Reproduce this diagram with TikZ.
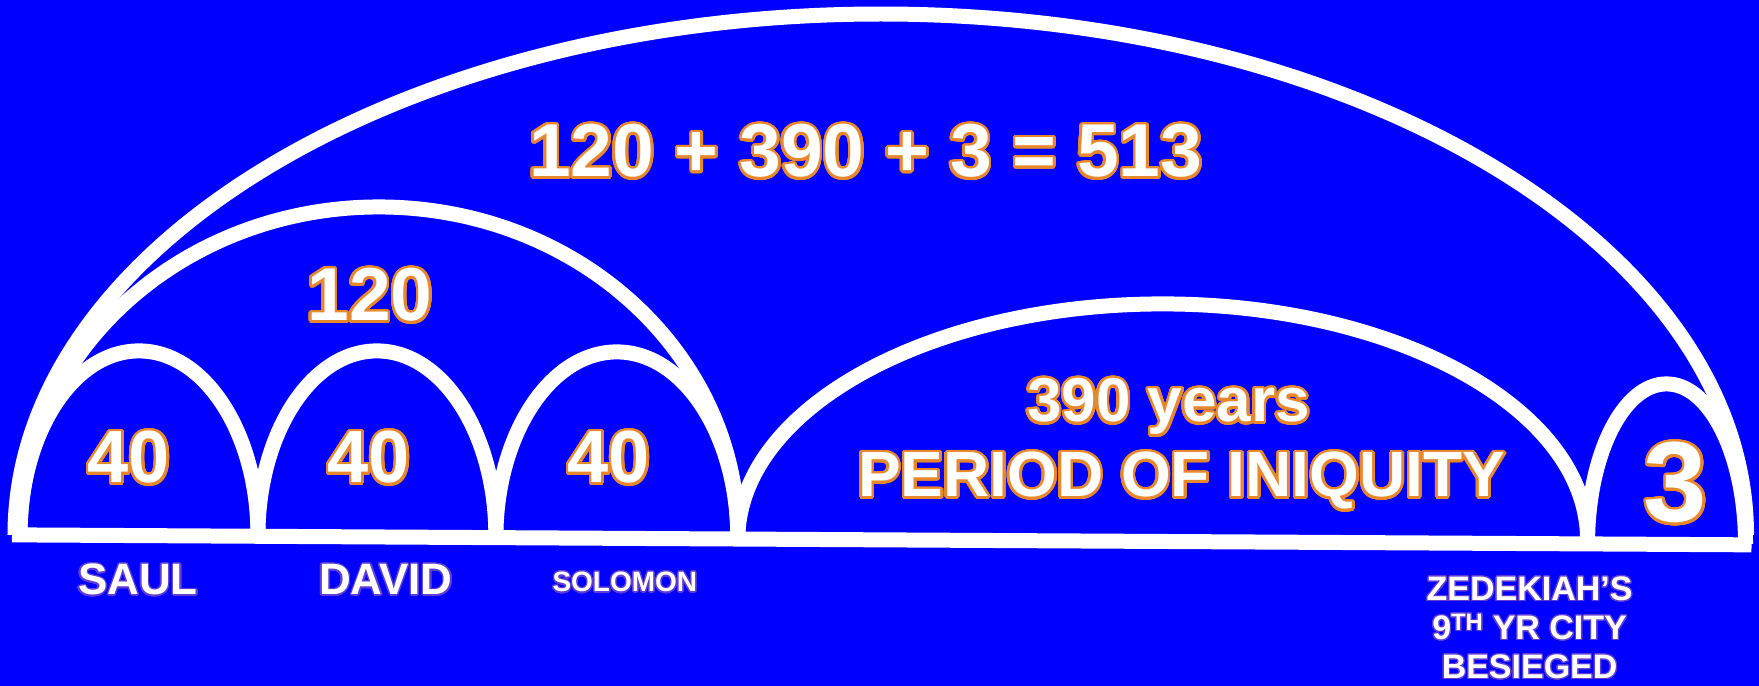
\documentclass[tikz,border=0pt]{standalone}
\usepackage{fontspec}
\setmainfont{Liberation Sans}
\usepackage[copies]{contour}
\usetikzlibrary{positioning}
\definecolor{deepblue}{RGB}{0,0,255}
\definecolor{rim}{RGB}{232,136,44}
\definecolor{haze}{RGB}{96,60,210}
\contournumber{32}
\newcommand{\rimtxt}[1]{\contourlength{2.6pt}\contour{rim}{#1}}
\newcommand{\hazetxt}[1]{\contourlength{1.2pt}\contour{haze}{#1}}
\tikzset{
    arch/.style={draw=white, line width=15pt},
    num/.style={text=white, inner sep=0pt, anchor=base, font=\bfseries\fontsize{74}{80}\selectfont},
    king/.style={text=white, inner sep=0pt, anchor=base, font=\bfseries\fontsize{44}{48}\selectfont}
}

\begin{document}
\begin{tikzpicture}[x=1pt, y=-1pt]
    \fill[deepblue] (0,0) rectangle (1759,686);

    % ground line
    \draw [white, line width=15pt] (12,535) -- (1752,545);

    % arches (left end, half width, height)
    \draw [arch] (15,535) arc[start angle=180, end angle=360, x radius=866, y radius=521];
    \draw [arch] (20,535) arc[start angle=180, end angle=360, x radius=359, y radius=328];
    \draw [arch] (20,535) arc[start angle=180, end angle=360, x radius=119, y radius=184];
    \draw [arch] (258,536) arc[start angle=180, end angle=360, x radius=119, y radius=185];
    \draw [arch] (496,538) arc[start angle=180, end angle=360, x radius=121, y radius=186];
    \draw [arch] (738,540) arc[start angle=180, end angle=360, x radius=425, y radius=236];
    \draw [arch] (1588,544) arc[start angle=180, end angle=360, x radius=79, y radius=160];

    % numbers
    \node (total) [num, font=\bfseries\fontsize{75}{80}\selectfont] at (866,177) {\rimtxt{120 + 390 + 3 = 513}};
    \node (kings) [num, font=\bfseries\fontsize{75}{80}\selectfont] at (370,321) {\rimtxt{120}};
    \node (saulyrs) [num] at (129,483) {\rimtxt{40}};
    \node (davidyrs) [num] at (369,483) {\rimtxt{40}};
    \node (solyrs) [num] at (609,483) {\rimtxt{40}};
    \node (years) [num, font=\bfseries\fontsize{62}{66}\selectfont] at (1169,422) {\rimtxt{390 years}};
    \node (iniquity) [num, font=\bfseries\fontsize{64}{70}\selectfont] at (1182,497) {\rimtxt{PERIOD OF INIQUITY}};
    \node (siege) [num, font=\bfseries\fontsize{114}{120}\selectfont] at (1676,522) {\rimtxt{3}};

    % kings and siege
    \node (saul) [king] at (138,595) {\hazetxt{SAUL}};
    \node (david) [king] at (386,595) {\hazetxt{DAVID}};
    \node (solomon) [king, font=\bfseries\fontsize{28}{30}\selectfont] at (625,592) {\hazetxt{SOLOMON}};
    \node (zedekiah) [king, anchor=north, align=center, font=\bfseries\fontsize{34}{39}\selectfont] at (1530,577)
        {\hazetxt{ZEDEKIAH’S}\\\hazetxt{9\textsuperscript{TH} YR CITY}\\\hazetxt{BESIEGED}};
\end{tikzpicture}
\end{document}
